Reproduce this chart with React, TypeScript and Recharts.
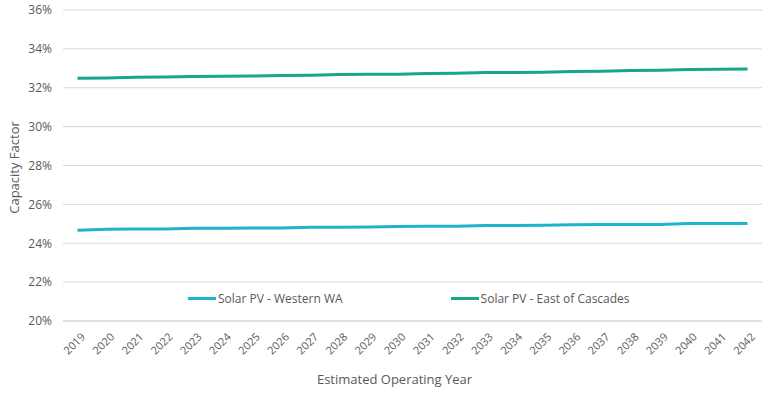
import { LineChart, Line, XAxis, YAxis, CartesianGrid } from "recharts";

const years = [
  "2019", "2020", "2021", "2022", "2023", "2024", "2025", "2026",
  "2027", "2028", "2029", "2030", "2031", "2032", "2033", "2034",
  "2035", "2036", "2037", "2038", "2039", "2040", "2041", "2042",
];

// capacity factor, percent
const westernWA = [
  24.67, 24.72, 24.73, 24.73, 24.77, 24.77, 24.78, 24.78,
  24.82, 24.82, 24.83, 24.86, 24.87, 24.88, 24.91, 24.91,
  24.92, 24.95, 24.96, 24.96, 24.97, 25.01, 25.02, 25.02,
];
const eastCascades = [
  32.49, 32.50, 32.54, 32.55, 32.58, 32.59, 32.60, 32.63,
  32.64, 32.68, 32.69, 32.70, 32.73, 32.74, 32.78, 32.79,
  32.80, 32.84, 32.85, 32.89, 32.90, 32.94, 32.95, 32.96,
];

const yTicks = [20, 22, 24, 26, 28, 30, 32, 34, 36];

const series = [
  { key: "west", name: "Solar PV - Western WA", color: "#1fb4cb" },
  { key: "east", name: "Solar PV - East of Cascades", color: "#16a689" },
];

const data = years.map((y, i) => ({
  year: y,
  west: westernWA[i],
  east: eastCascades[i],
}));

const FONT = "'Open Sans', 'DejaVu Sans', sans-serif";
const TEXT = "#595959";

export default function App() {
  return (
    <div style={{ position: "relative", width: 769, height: 393, background: "#fff" }}>
      <style>{`body{margin:0}`}</style>
      <LineChart
        width={769}
        height={393}
        data={data}
        margin={{ top: 10, right: 7, left: 0, bottom: 0 }}
      >
        <CartesianGrid vertical={false} stroke="#d9d9d9" />
        <XAxis
          dataKey="year"
          height={72}
          padding={{ left: 14.5, right: 14.5 }}
          tickLine={false}
          axisLine={{ stroke: "#d9d9d9" }}
          interval={0}
          angle={-45}
          textAnchor="end"
          tickMargin={5}
          tick={{ fill: TEXT, fontSize: 11, fontFamily: FONT, dx: 3 }}
          label={{ value: "Estimated Operating Year", position: "insideBottom", offset: 9, dx: -18, fill: TEXT, fontSize: 13, fontFamily: FONT }}
        />
        <YAxis
          width={63}
          domain={[20, 36]}
          ticks={yTicks}
          tickFormatter={(v) => `${v}%`}
          axisLine={false}
          tickLine={false}
          tickMargin={5}
          tick={{ fill: TEXT, fontSize: 12, fontFamily: FONT }}
          label={{ value: "Capacity Factor", angle: -90, position: "insideLeft", offset: 14, dy: 2, fill: TEXT, fontSize: 13, fontFamily: FONT, style: { textAnchor: "middle" } }}
        />
        {series.map((s) => (
          <Line
            key={s.key}
            type="linear"
            dataKey={s.key}
            name={s.name}
            stroke={s.color}
            strokeWidth={3}
            dot={false}
            isAnimationActive={false}
          />
        ))}
      </LineChart>
      <div
        style={{
          position: "absolute",
          top: 290,
          left: 188,
          display: "flex",
          gap: 108,
          fontFamily: FONT,
          fontSize: 12,
          color: TEXT,
        }}
      >
        {series.map((s) => (
          <div key={s.key} style={{ display: "flex", alignItems: "center" }}>
            <span style={{ display: "inline-block", width: 28, height: 3, background: s.color, marginRight: 2 }} />
            <span>{s.name}</span>
          </div>
        ))}
      </div>
    </div>
  );
}
